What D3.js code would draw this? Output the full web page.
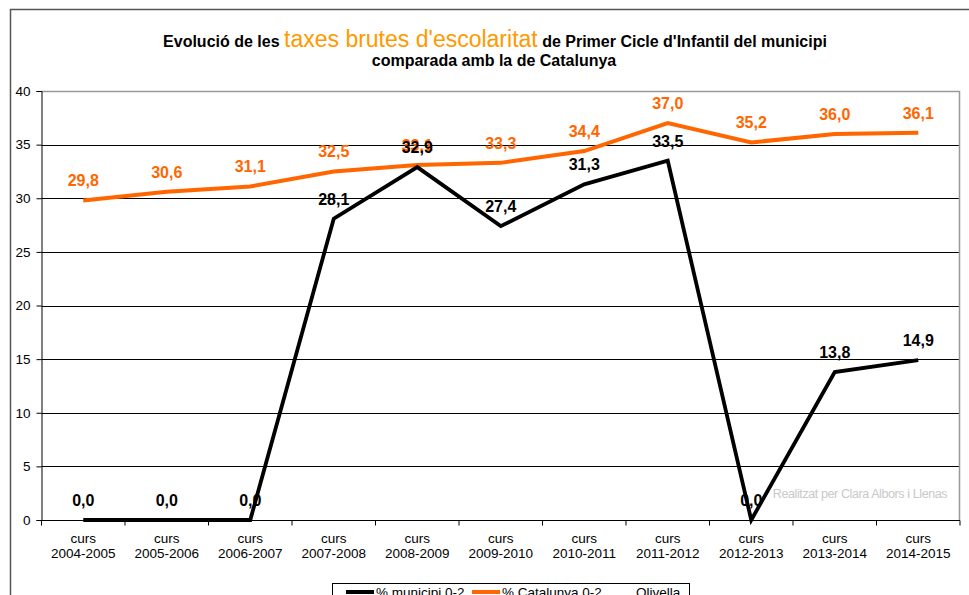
<!DOCTYPE html>
<html lang="ca">
<head>
<meta charset="UTF-8">
<title>Taxes brutes d'escolaritat</title>
<script src="https://cdn.jsdelivr.net/npm/d3@7"></script>
<style>
    body{ margin:0; background:#fff; font-family:"Liberation Sans", Arial, sans-serif; }
    .grid line{ stroke:#000; stroke-width:1; }
    .xAxis text, .yAxis text{ font-size:13.5px; fill:#000; }
    .lbl{ font-size:16px; font-weight:bold; text-anchor:middle; }
</style>
</head>
<body>
<svg id="main" width="969" height="595"></svg>
<script>
    const cursos = ["2004-2005","2005-2006","2006-2007","2007-2008","2008-2009","2009-2010",
                    "2010-2011","2011-2012","2012-2013","2013-2014","2014-2015"];
    const municipi = [0.0, 0.0, 0.0, 28.1, 32.9, 27.4, 31.3, 33.5, 0.0, 13.8, 14.9];
    const catalunya = [29.8, 30.6, 31.1, 32.5, 33.1, 33.3, 34.4, 37.0, 35.2, 36.0, 36.1];
    const yTicks = [0, 5, 10, 15, 20, 25, 30, 35, 40];
    const legendItems = ["% municipi 0-2", "% Catalunya 0-2", "Olivella"];

    const black = "#000", orange = "#FF6600";
    const svg = d3.select("#main");
    const plot = {left: 41.5, right: 960, top: 91, bottom: 520};

    // outer frame of the chart
    svg.append("rect").attr("x", 10.5).attr("y", 9.5).attr("width", 1000).attr("height", 700)
        .attr("fill", "none").attr("stroke", "#555").attr("stroke-width", 1.5);

    // title
    const title = svg.append("text").attr("x", 495).attr("y", 47).attr("text-anchor", "middle")
        .style("font-size", "16px").style("font-weight", "bold");
    title.append("tspan").text("Evolució de les ");
    title.append("tspan").text("taxes brutes d'escolaritat")
        .style("font-size", "23px").style("font-weight", "normal").attr("fill", "#FF9900");
    title.append("tspan").text(" de Primer Cicle d'Infantil del municipi");
    svg.append("text").attr("x", 494).attr("y", 66).attr("text-anchor", "middle")
        .style("font-size", "16px").style("font-weight", "bold").text("comparada amb la de Catalunya");

    const x = d3.scaleBand().domain(cursos).range([plot.left, plot.right]);
    const y = d3.scaleLinear().domain([0, 40]).range([plot.bottom, plot.top]);
    const cx = d => x(d) + x.bandwidth() / 2;

    // gridlines
    svg.append("g").attr("class", "grid")
        .selectAll("line").data(yTicks.filter(t => t > 0 && t < 40)).join("line")
        .attr("x1", plot.left).attr("x2", plot.right)
        .attr("y1", d => Math.round(y(d)) + 0.5).attr("y2", d => Math.round(y(d)) + 0.5);

    // top / right plot border
    svg.append("path")
        .attr("d", `M${plot.left},${plot.top + 0.5}H${plot.right - 0.5}V${plot.bottom}`)
        .attr("fill", "none").attr("stroke", "#999").attr("stroke-width", 1.5);

    // axes
    const yAxis = svg.append("g").attr("class", "yAxis")
        .attr("transform", `translate(${plot.left},0)`)
        .call(d3.axisLeft(y).tickValues(yTicks).tickSize(5).tickPadding(6).tickFormat(d3.format("d")));
    yAxis.selectAll("text").style("font-family", "Liberation Sans, Arial");
    yAxis.select(".domain").attr("stroke", "#000");

    const xAxis = svg.append("g").attr("class", "xAxis")
        .attr("transform", `translate(0,${plot.bottom + 0.5})`);
    xAxis.append("line").attr("x1", plot.left).attr("x2", plot.right).attr("stroke", "#000");
    xAxis.selectAll(".tk").data(cursos.concat(["end"])).join("line")
        .attr("x1", (d, i) => plot.left + i * x.bandwidth()).attr("x2", (d, i) => plot.left + i * x.bandwidth())
        .attr("y1", 0).attr("y2", 5).attr("stroke", "#000");
    const xl = xAxis.selectAll(".xl").data(cursos).join("text")
        .attr("text-anchor", "middle").attr("x", d => cx(d));
    xl.append("tspan").attr("x", d => cx(d)).attr("y", 22).text("curs");
    xl.append("tspan").attr("x", d => cx(d)).attr("y", 37).text(d => d);

    // watermark
    svg.append("text").attr("x", 860).attr("y", 498).attr("text-anchor", "middle")
        .attr("fill", "#c8c8c8").style("font-size", "12.5px").style("letter-spacing", "-0.4px")
        .text("Realitzat per Clara Albors i Llenas");

    const line = d3.line().x((d, i) => cx(cursos[i])).y(d => y(d));

    svg.append("path").datum(catalunya).attr("d", line)
        .attr("fill", "none").attr("stroke", orange).attr("stroke-width", 4);
    svg.append("path").datum(municipi).attr("d", line)
        .attr("fill", "none").attr("stroke", black).attr("stroke-width", 3.8);

    const fmt = v => v.toFixed(1).replace(".", ",");
    svg.append("g").selectAll("text").data(catalunya).join("text")
        .attr("class", "lbl").attr("fill", orange)
        .attr("x", (d, i) => cx(cursos[i])).attr("y", d => y(d) - 14).text(fmt);
    svg.append("g").selectAll("text").data(municipi).join("text")
        .attr("class", "lbl").attr("fill", black)
        .attr("x", (d, i) => cx(cursos[i])).attr("y", d => y(d) - 14).text(fmt);

    // legend
    const lg = svg.append("g").attr("transform", "translate(332,583)");
    lg.append("rect").attr("x", 0.5).attr("y", 0.5).attr("width", 357).attr("height", 40)
        .attr("fill", "#fff").attr("stroke", "#000");
    const lx = [14, 140, 304];
    const lc = [black, orange, null];
    legendItems.forEach((t, i) => {
        if (lc[i]) lg.append("line").attr("x1", lx[i]).attr("x2", lx[i] + 28).attr("y1", 9).attr("y2", 9)
            .attr("stroke", lc[i]).attr("stroke-width", 4);
        lg.append("text").attr("x", lc[i] ? lx[i] + 30 : lx[i]).attr("y", 14)
            .style("font-size", "13.5px").text(t);
    });
</script>
</body>
</html>
